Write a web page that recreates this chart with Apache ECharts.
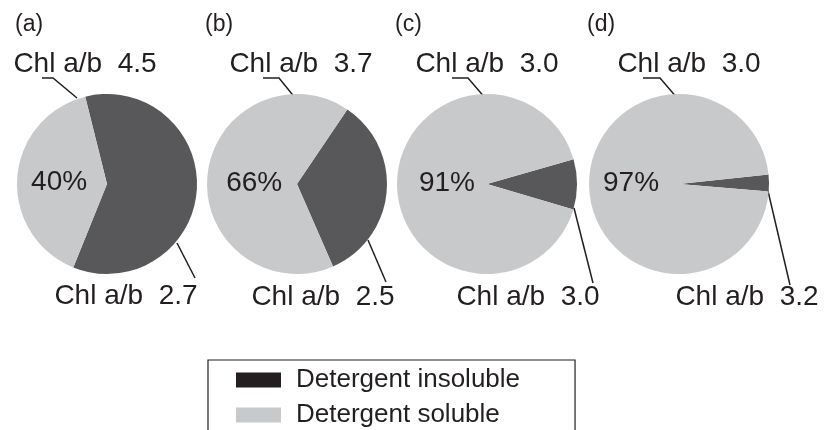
<!DOCTYPE html>
<html>
<head>
<meta charset="utf-8">
<script src="https://cdn.jsdelivr.net/npm/echarts@6/dist/echarts.min.js"></script>
<style>
  html, body { margin: 0; padding: 0; background: #ffffff; }
  #chart { width: 824px; height: 430px; }
</style>
</head>
<body>
<div id="chart"></div>
<script>
// ---- data ----
const panelLabels = ['(a)', '(b)', '(c)', '(d)'];
const seriesNames = ['Detergent insoluble', 'Detergent soluble'];
const insolublePct = [60, 34, 9, 3];
const solublePct = [40, 66, 91, 97];
const chlInsoluble = ['2.7', '2.5', '3.0', '3.2'];
const chlSoluble = ['4.5', '3.7', '3.0', '3.0'];

// ---- style / layout ----
const FONT = '"Liberation Sans", Arial, Helvetica, sans-serif';
const INK = '#231f20';
const DARK = '#58585a';
const LIGHT = '#c8c9cb';
const LEGEND_DARK = '#231f20';
const pieX = [107, 297, 487, 679];
const pieY = 184;
const pieR = 90;
const startAngles = [104, 56, 16, 6];
// label placement offsets relative to pie centre (styling only)
const pctShift = [[0, 2], [5, 4], [8, -1], [0, -1]];
const topText = [[-22, -120], [4, -120], [0, -120], [10, -120]];
const topLine = [
  [[-30, -86], [-54, -106], [-65, -106]],
  [[-1, -85], [-18, -106], [-34, -106]],
  [[-1, -85], [-19, -106], [-35, -106]],
  [[-1, -85], [-19, -106], [-36, -106]]
];
const botText = [[19, 112], [26, 113], [41, 113], [68, 113]];
const botLine = [
  [[70, 59], [88, 94]],
  [[71, 56], [89, 98]],
  [[87, 24], [106, 99]],
  [[89, 7], [111, 101]]
];

const chart = echarts.init(document.getElementById('chart'), null, { renderer: 'canvas' });

const series = [];
panelLabels.forEach((p, i) => {
  const data = [
    { name: seriesNames[0], value: insolublePct[i], itemStyle: { color: DARK } },
    { name: seriesNames[1], value: solublePct[i], itemStyle: { color: LIGHT } }
  ];
  // visible pie with percentage label
  series.push({
    type: 'pie',
    center: [pieX[i], pieY],
    radius: [0, pieR],
    startAngle: startAngles[i],
    clockwise: true,
    avoidLabelOverlap: false,
    silent: true,
    animation: false,
    itemStyle: { borderWidth: 0 },
    label: {
      show: true,
      position: 'inside',
      color: INK,
      fontFamily: FONT,
      fontSize: 28,
      formatter: (prm) => prm.dataIndex === 1 ? prm.value + '%' : ''
    },
    labelLayout: () => ({ dx: pctShift[i][0], dy: pctShift[i][1] }),
    labelLine: { show: false },
    emphasis: { disabled: true },
    data: data
  });
  // overlay for Chl a/b labels
  series.push({
    type: 'pie',
    center: [pieX[i], pieY],
    radius: [0, pieR],
    startAngle: startAngles[i],
    clockwise: true,
    avoidLabelOverlap: false,
    silent: true,
    animation: false,
    itemStyle: { color: 'rgba(0,0,0,0)', borderWidth: 0 },
    label: {
      show: true,
      position: 'outside',
      color: INK,
      fontFamily: FONT,
      fontSize: 28,
      formatter: (prm) => 'Chl a/b  ' + (prm.dataIndex === 0 ? chlInsoluble[i] : chlSoluble[i])
    },
    labelLine: { show: true, length: 10, length2: 10, lineStyle: { color: INK, width: 1.5 } },
    labelLayout: (prm) => {
      const cx = pieX[i], cy = pieY;
      const isTop = prm.dataIndex === 1;
      const t = isTop ? topText[i] : botText[i];
      const l = isTop ? topLine[i] : botLine[i];
      return {
        x: cx + t[0],
        y: cy + t[1],
        align: 'center',
        verticalAlign: 'middle',
        labelLinePoints: l.map(pt => [cx + pt[0], cy + pt[1]])
      };
    },
    emphasis: { disabled: true },
    data: data.map(d => ({ name: d.name, value: d.value }))
  });
});

chart.setOption({
  backgroundColor: '#ffffff',
  animation: false,
  title: panelLabels.map((t, i) => ({
    text: t,
    left: pieX[i] - 92,
    top: 13,
    padding: 0,
    textStyle: { fontFamily: FONT, fontSize: 23, fontWeight: 'normal', color: INK }
  })),
  legend: {
    orient: 'vertical',
    left: 208,
    top: 360,
    height: 200,
    padding: [7, 55, 20, 28],
    borderColor: INK,
    borderWidth: 1.2,
    itemWidth: 45,
    itemHeight: 15,
    itemGap: 9,
    icon: 'rect',
    selectedMode: false,
    textStyle: { fontFamily: FONT, fontSize: 26, color: INK, padding: [0, 0, 0, 10] },
    data: [
      { name: seriesNames[0], itemStyle: { color: LEGEND_DARK } },
      { name: seriesNames[1], itemStyle: { color: LIGHT } }
    ]
  },
  series: series
});
</script>
</body>
</html>
